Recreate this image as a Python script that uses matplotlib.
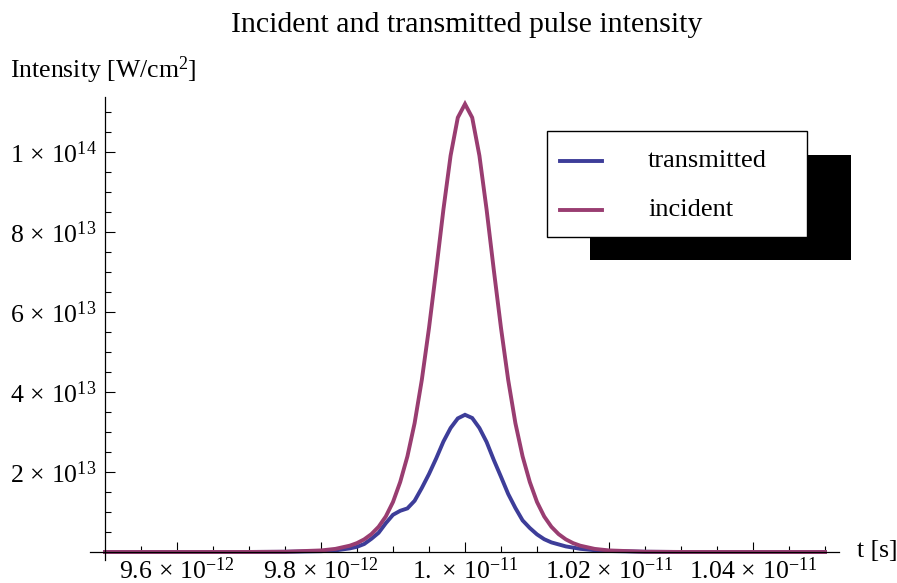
import numpy as np
import matplotlib.pyplot as plt
from matplotlib.patches import Rectangle
from matplotlib.lines import Line2D
from matplotlib.ticker import FixedLocator

plt.rcParams['font.family'] = ['Liberation Serif', 'DejaVu Serif']
plt.rcParams['mathtext.fontset'] = 'custom'
plt.rcParams['mathtext.rm'] = 'Liberation Serif'
plt.rcParams['mathtext.it'] = 'Liberation Serif:italic'
plt.rcParams['mathtext.bf'] = 'Liberation Serif:bold'

# time in ps, intensity in 1e12 W/cm^2
t_inc = [9.50, 9.60, 9.70, 9.75, 9.80, 9.82, 9.84, 9.85, 9.86, 9.87, 9.88, 9.89,
         9.90, 9.91, 9.92, 9.93, 9.94, 9.95, 9.96, 9.97, 9.98, 9.99, 10.00,
         10.01, 10.02, 10.03, 10.04, 10.05, 10.06, 10.07, 10.08, 10.09, 10.10,
         10.11, 10.12, 10.13, 10.14, 10.15, 10.16, 10.18, 10.20, 10.25, 10.30,
         10.40, 10.50]
I_inc = [0.0, 0.0, 0.01, 0.07, 0.39, 0.78, 1.58, 2.23, 3.16, 4.47, 6.3, 8.88,
         12.5, 17.5, 23.9, 32.2, 43.0, 56.0, 70.5, 85.6, 99.1, 108.6, 112.0,
         108.6, 99.1, 85.6, 70.5, 56.0, 43.0, 32.2, 23.9, 17.5, 12.5,
         8.88, 6.3, 4.47, 3.16, 2.23, 1.58, 0.78, 0.39, 0.07, 0.01,
         0.0, 0.0]

t_tr = [9.50, 9.60, 9.70, 9.75, 9.80, 9.82, 9.84, 9.85, 9.86, 9.87, 9.88, 9.89,
        9.90, 9.91, 9.92, 9.93, 9.94, 9.95, 9.96, 9.97, 9.98, 9.99, 10.00,
        10.01, 10.02, 10.03, 10.04, 10.05, 10.06, 10.07, 10.08, 10.09, 10.10,
        10.11, 10.12, 10.14, 10.16, 10.18, 10.20, 10.25, 10.30, 10.40, 10.50]
I_tr = [0.0, 0.0, 0.01, 0.05, 0.2, 0.4, 0.9, 1.3, 2.0, 3.3, 4.8, 7.2,
        9.3, 10.3, 10.9, 12.8, 16.0, 19.5, 23.4, 27.6, 31.0, 33.4, 34.3,
        33.5, 31.0, 27.5, 23.0, 18.8, 14.5, 11.0, 7.9, 6.0, 4.4,
        3.2, 2.4, 1.4, 0.8, 0.45, 0.25, 0.06, 0.0, 0.0, 0.0]

x_major = [9.6e-12, 9.8e-12, 1.0e-11, 1.02e-11, 1.04e-11]
x_labels = [r'$9.6\,\times\,10^{-12}$', r'$9.8\,\times\,10^{-12}$', r'$1.\,\times\,10^{-11}$',
            r'$1.02\,\times\,10^{-11}$', r'$1.04\,\times\,10^{-11}$']
y_major = [2e13, 4e13, 6e13, 8e13, 1e14]
y_labels = [r'$2\,\times\,10^{13}$', r'$4\,\times\,10^{13}$', r'$6\,\times\,10^{13}$',
            r'$8\,\times\,10^{13}$', r'$1\,\times\,10^{14}$']

c_tr = '#3d3d99'
c_inc = '#993d71'

W, H = 897, 583
fig = plt.figure(figsize=(W / 100, H / 100), dpi=100)

def fx(px):
    return px / W

def fy(py):
    return 1 - py / H

ax = fig.add_axes([fx(90), fy(560), fx(839) - fx(90), fy(97) - fy(560)])

t0, t1 = 9.5e-12, 1.05e-11
ax.plot(np.array(t_tr) * 1e-12, np.array(I_tr) * 1e12, color=c_tr, lw=2.8,
        solid_joinstyle='miter', clip_on=False)
ax.plot(np.array(t_inc) * 1e-12, np.array(I_inc) * 1e12, color=c_inc, lw=2.8,
        solid_joinstyle='miter', clip_on=False)

px_per = 720 / (t1 - t0)
ax.set_xlim(t0 - 15 / px_per, t0 + 734 / px_per)
ax.set_ylim(-2e12, 113.75e12)

for s in ['top', 'right']:
    ax.spines[s].set_visible(False)
ax.spines['left'].set_position(('data', t0))
ax.spines['bottom'].set_position(('data', 0))
ax.spines['left'].set_linewidth(0.9)
ax.spines['bottom'].set_linewidth(0.9)

ax.xaxis.set_major_locator(FixedLocator(x_major))
ax.set_xticklabels(x_labels)
x_minor = [t0 + k * 0.05e-12 for k in range(1, 21) if k % 4 != 2]
ax.xaxis.set_minor_locator(FixedLocator(x_minor))

ax.yaxis.set_major_locator(FixedLocator(y_major))
ax.set_yticklabels(y_labels)
y_minor = [k * 5e12 for k in range(1, 23) if k % 4 != 0]
ax.yaxis.set_minor_locator(FixedLocator(y_minor))

ax.tick_params(which='major', direction='in', length=7, width=0.8, labelsize=18.5, pad=4)
ax.tick_params(which='minor', direction='in', length=4, width=0.8)
ax.tick_params(axis='y', which='major', pad=6)

fig.text(fx(467), fy(25), 'Incident and transmitted pulse intensity',
         ha='center', va='center', fontsize=21.5)
fig.text(fx(10), fy(70), r'Intensity [W/cm$^{2}$]', ha='left', va='center', fontsize=18.5)
fig.text(fx(857), fy(551), 't [s]', ha='left', va='center', fontsize=18.5)

# legend with offset shadow
fig.add_artist(Rectangle((fx(590), fy(260)), fx(851) - fx(590), fy(155) - fy(260),
                         transform=fig.transFigure, facecolor='black', edgecolor='none'))
fig.add_artist(Rectangle((fx(547), fy(237)), fx(807) - fx(547), fy(131) - fy(237),
                         transform=fig.transFigure, facecolor='white', edgecolor='black', lw=1))
for name, col, py in [('transmitted', c_tr, 161), ('incident', c_inc, 210)]:
    fig.add_artist(Line2D([fx(560), fx(602)], [fy(py), fy(py)], color=col, lw=2.8,
                          transform=fig.transFigure))
    fig.text(fx(648), fy(py), name, ha='left', va='center', fontsize=19)

fig.savefig('out.png', dpi=100)
